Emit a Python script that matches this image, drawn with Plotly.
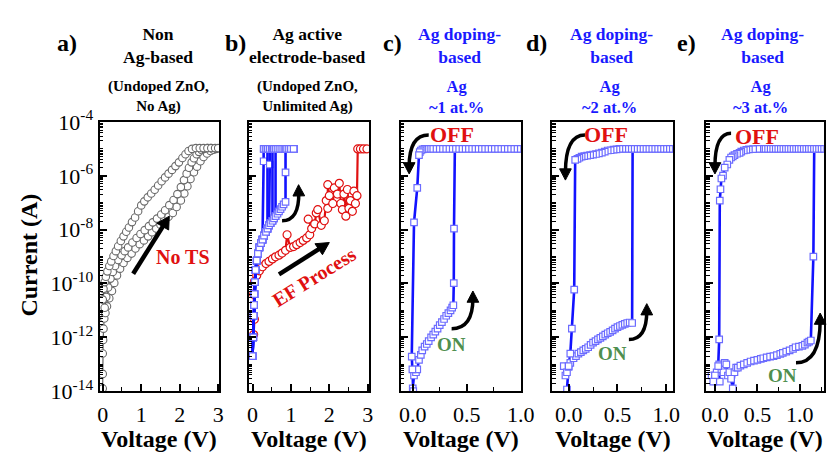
import math
import numpy as np
import plotly.graph_objects as go

W, H = 840, 466
SERIF = "Liberation Serif, Times New Roman, serif"
BLUE_LINE = "#1212ff"
BLUE_MK = "#6b6bff"
RED = "#e01010"
GREEN = "#4f8f4f"
TITLE_BLUE = "#1a1aff"

# ---------------- data : (voltage V, log10 current A) ----------------
# panel a : undoped ZnO, no Ag (three sweeps)
a_upper = [(0.00,-10.6),(0.02,-10.2),(0.05,-9.95),(0.08,-9.75),(0.12,-9.55),(0.17,-9.35),(0.22,-9.18),
           (0.28,-8.98),(0.34,-8.80),(0.40,-8.62),(0.47,-8.42),(0.54,-8.25),(0.61,-8.08),(0.68,-7.92),
           (0.76,-7.72),(0.84,-7.55),(0.92,-7.32),(1.00,-7.10),(1.08,-6.95),(1.17,-6.80),(1.26,-6.66),
           (1.35,-6.52),(1.44,-6.36),(1.53,-6.20),(1.62,-6.06),(1.71,-5.92),(1.80,-5.78),(1.89,-5.64),
           (1.98,-5.50),(2.07,-5.34),(2.15,-5.20),(2.23,-5.08),(2.32,-5.00),(2.42,-4.97),(2.52,-4.97),
           (2.62,-4.97),(2.72,-4.97),(2.82,-4.97),(2.92,-4.97),(3.00,-4.97)]
a_middle = [(0.05,-10.90),(0.09,-10.50),(0.14,-10.15),(0.20,-9.82),(0.26,-9.57),(0.32,-9.35),(0.40,-9.13),
            (0.49,-8.95),(0.57,-8.80),(0.66,-8.66),(0.77,-8.48),(0.88,-8.31),(0.98,-8.16),(1.09,-8.02),
            (1.20,-7.87),(1.30,-7.73),(1.41,-7.59),(1.52,-7.44),(1.62,-7.28),(1.73,-7.09),(1.84,-6.90),
            (1.94,-6.68),(2.03,-6.42),(2.11,-6.16),(2.18,-5.92),(2.24,-5.70),(2.31,-5.50),(2.37,-5.35),
            (2.44,-5.20),(2.50,-5.11),(2.57,-5.04),(2.63,-5.00),(2.72,-4.97),(2.80,-4.97)]
a_lower = [(0.00,-13.90),(0.00,-13.36),(0.00,-12.60),(0.01,-12.10),(0.02,-11.68),(0.04,-11.30),(0.07,-11.10),
           (0.11,-10.85),(0.17,-10.55),(0.24,-10.28),(0.30,-9.98),(0.37,-9.70),(0.45,-9.45),(0.54,-9.24),
           (0.64,-9.05),(0.75,-8.89),(0.85,-8.70),(0.96,-8.54),(1.07,-8.40),(1.18,-8.25),(1.28,-8.10),
           (1.39,-7.96),(1.50,-7.82),(1.60,-7.67),(1.71,-7.52),(1.82,-7.38),(1.92,-7.16),(2.03,-6.92),
           (2.12,-6.66),(2.20,-6.39),(2.28,-6.12),(2.37,-5.87),(2.45,-5.66),(2.54,-5.46),(2.62,-5.30),
           (2.71,-5.17),(2.80,-5.08),(2.88,-5.03),(2.95,-5.00)]

# panel b : Ag active electrode
b_blue_base = [(0.00,-12.70),(0.02,-12.00),(0.03,-11.20),(0.04,-10.80),(0.05,-10.40),(0.06,-9.95),(0.08,-9.50),
               (0.11,-9.15),(0.14,-8.89),(0.18,-8.66),(0.22,-8.50),(0.26,-8.37),(0.30,-8.22),(0.35,-8.08),
               (0.39,-7.96),(0.43,-7.84),(0.47,-7.76),(0.52,-7.67),(0.56,-7.58),(0.60,-7.50),(0.65,-7.41),
               (0.69,-7.32),(0.73,-7.24),(0.77,-7.15),(0.81,-7.06),(0.86,-6.97)]
b_blue_jump_v = [0.29, 0.39, 0.45, 0.52, 0.60, 0.86]
b_blue_jump_mid = [-5.46, None, -5.58, None, None, -5.87]
b_blue_comp = [(0.30,-5.0),(0.35,-5.0),(0.40,-5.0),(0.45,-5.0),(0.50,-5.0),(0.55,-5.0),(0.60,-5.0),(0.65,-5.0),
               (0.70,-5.0),(0.75,-5.0),(0.80,-5.0),(0.85,-5.0),(0.90,-5.0),(0.95,-5.0),(1.00,-5.0),(1.07,-5.0)]
b_red = [(0.03,-11.90),(0.05,-11.33),(0.03,-10.40),(0.05,-9.93),(0.11,-9.70),(0.18,-9.53),(0.26,-9.38),
         (0.35,-9.26),(0.43,-9.18),(0.52,-9.09),(0.60,-9.01),(0.69,-8.95),(0.77,-8.87),(0.86,-8.77),
         (0.90,-8.19),(0.98,-8.66),(1.07,-8.63),(1.15,-8.56),(1.24,-8.48),(1.32,-8.40),(1.41,-8.31),
         (1.49,-8.19),(1.54,-7.96),(1.45,-7.61),(1.62,-7.79),(1.66,-7.38),(1.70,-7.26),(1.79,-7.84),
         (1.87,-7.67),(1.92,-6.92),(1.96,-7.21),(1.96,-6.33),(2.00,-6.74),(2.09,-7.03),(2.13,-6.45),
         (2.21,-6.68),(2.26,-6.28),(2.30,-7.03),(2.34,-7.26),(2.38,-6.68),(2.43,-7.50),(2.47,-6.51),
         (2.51,-7.21),(2.55,-6.92),(2.60,-7.32),(2.64,-6.57),(2.68,-7.03),(2.72,-6.74),(2.74,-5.00),
         (2.81,-5.00),(2.89,-5.00),(2.98,-5.00)]

# panel c : Ag ~1 at.%
c_on = [(0.000,-13.90),(0.012,-13.42),(0.030,-13.30),(0.042,-13.19),(0.058,-12.84),(0.075,-12.65),(0.088,-12.49),
        (0.110,-12.35),(0.130,-12.25),(0.148,-12.14),(0.170,-12.00),(0.190,-11.90),(0.209,-11.79),(0.230,-11.68),
        (0.250,-11.55),(0.270,-11.44),(0.290,-11.32),(0.310,-11.20),(0.330,-11.10),(0.350,-11.00),(0.365,-10.90),
        (0.376,-10.81),(0.380,-9.99),(0.382,-7.96),(0.390,-5.00),(0.45,-5.0),(0.55,-5.0),(0.65,-5.0),
        (0.75,-5.0),(0.85,-5.0),(0.95,-5.0),(1.00,-5.0)]
c_off = [(1.00,-5.0),(0.97,-5.0),(0.94,-5.0),(0.91,-5.0),(0.88,-5.0),(0.85,-5.0),(0.82,-5.0),(0.79,-5.0),
         (0.76,-5.0),(0.73,-5.0),(0.70,-5.0),(0.67,-5.0),(0.64,-5.0),(0.61,-5.0),(0.58,-5.0),(0.55,-5.0),
         (0.52,-5.0),(0.49,-5.0),(0.46,-5.0),(0.43,-5.0),(0.40,-5.0),(0.37,-5.0),(0.34,-5.0),(0.31,-5.0),
         (0.28,-5.0),(0.25,-5.0),(0.22,-5.0),(0.19,-5.0),(0.16,-5.0),(0.13,-5.0),(0.11,-5.0),(0.09,-5.02),
         (0.075,-5.06),(0.065,-5.12),(0.058,-5.23),(0.042,-6.45),(0.012,-7.73),(-0.009,-12.72),
         (-0.003,-13.19),(0.005,-14.0)]

# panel d : Ag ~2 at.%
d_on = [(-0.050,-13.07),(-0.033,-13.42),(-0.017,-13.30),(0.000,-13.10),(0.017,-12.95),(0.050,-12.78),
        (0.075,-12.70),(0.100,-12.61),(0.125,-12.55),(0.150,-12.49),(0.175,-12.43),(0.200,-12.37),
        (0.225,-12.28),(0.250,-12.20),(0.275,-12.14),(0.300,-12.08),(0.325,-12.02),(0.350,-11.97),
        (0.375,-11.90),(0.400,-11.85),(0.425,-11.80),(0.450,-11.74),(0.475,-11.68),(0.500,-11.62),
        (0.525,-11.58),(0.550,-11.54),(0.575,-11.50),(0.600,-11.47),(0.625,-11.45),(0.650,-11.47),
        (0.655,-5.00),(0.75,-5.0),(0.85,-5.0),(0.95,-5.0),(1.06,-5.0)]
d_off = [(1.06,-5.0),(1.03,-5.0),(1.00,-5.0),(0.97,-5.0),(0.94,-5.0),(0.91,-5.0),(0.88,-5.0),(0.85,-5.0),
         (0.82,-5.0),(0.79,-5.0),(0.76,-5.0),(0.73,-5.0),(0.70,-5.0),(0.67,-5.0),(0.64,-5.0),(0.61,-5.0),
         (0.58,-5.0),(0.55,-5.0),(0.52,-5.0),(0.49,-5.02),(0.46,-5.03),(0.43,-5.05),(0.40,-5.06),
         (0.37,-5.10),(0.34,-5.14),(0.31,-5.17),(0.28,-5.19),(0.25,-5.21),(0.22,-5.23),(0.19,-5.25),
         (0.16,-5.27),(0.133,-5.29),(0.11,-5.33),(0.09,-5.37),(0.067,-5.41),(0.057,-10.23),
         (0.033,-11.68),(0.017,-12.61),(0.000,-13.07),(-0.017,-13.94)]

# panel e : Ag ~3 at.%
e_on = [(-0.040,-13.42),(0.000,-13.42),(0.020,-13.30),(0.050,-13.01),(0.076,-13.19),(0.100,-13.30),
        (0.115,-12.95),(0.134,-13.01),(0.153,-13.42),(0.170,-13.30),(0.190,-13.54),(0.210,-13.90),
        (0.230,-13.30),(0.250,-13.13),(0.270,-13.13),(0.300,-13.05),(0.340,-13.01),(0.380,-12.95),
        (0.420,-12.90),(0.460,-12.87),(0.500,-12.84),(0.540,-12.80),(0.570,-12.78),(0.610,-12.75),
        (0.650,-12.72),(0.690,-12.70),(0.730,-12.66),(0.770,-12.62),(0.800,-12.58),(0.840,-12.53),
        (0.880,-12.49),(0.920,-12.43),(0.950,-12.37),(0.990,-12.35),(1.030,-12.32),(1.060,-12.27),
        (1.090,-12.20),(1.110,-12.16),(1.130,-12.12),(1.160,-9.00),(1.170,-5.00),(1.20,-5.0),
        (1.24,-5.0),(1.28,-5.0)]
e_off = [(1.27,-5.0),(1.24,-5.0),(1.21,-5.0),(1.18,-5.0),(1.15,-5.0),(1.12,-5.0),(1.09,-5.0),(1.06,-5.0),
         (1.03,-5.0),(1.00,-5.0),(0.97,-5.0),(0.94,-5.0),(0.91,-5.0),(0.88,-5.0),(0.85,-5.0),(0.82,-5.0),
         (0.79,-5.0),(0.76,-5.0),(0.73,-5.0),(0.70,-5.0),(0.67,-5.0),(0.64,-5.0),(0.61,-5.0),(0.58,-5.0),
         (0.55,-5.0),(0.52,-5.0),(0.50,-5.0),(0.45,-5.01),(0.40,-5.02),(0.37,-5.04),(0.34,-5.06),
         (0.31,-5.10),(0.29,-5.15),(0.26,-5.18),(0.23,-5.23),(0.21,-5.28),(0.19,-5.32),(0.17,-5.41),
         (0.145,-5.58),(0.115,-5.70),(0.095,-5.99),(0.076,-6.10),(0.065,-6.50),(0.057,-6.92),
         (0.050,-12.08),(0.038,-13.07),(0.057,-13.65),(0.000,-13.42),(-0.020,-13.65)]

# axis ticks / labels
y_decades = [-14, -13, -12, -11, -10, -9, -8, -7, -6, -5, -4]
y_labelled = [-14, -12, -10, -8, -6, -4]
x_ticks_wide = [0, 1, 2, 3]
x_minor_wide = [0.5, 1.5, 2.5]
x_ticks_narrow = [0.0, 0.5, 1.0]
x_minor_narrow = [0.25, 0.75, 1.25]

panel_letters = ["a)", "b)", "c)", "d)", "e)"]
panel_titles = ["Non<br>Ag-based", "Ag active<br>electrode-based", "Ag doping-<br>based",
                "Ag doping-<br>based", "Ag doping-<br>based"]
panel_subtitles = ["(Undoped ZnO,<br>No Ag)", "(Undoped ZnO,<br>Unlimited Ag)", "Ag<br>~1 at.%",
                   "Ag<br>~2 at.%", "Ag<br>~3 at.%"]

# ---------------- geometry (pixels of the 840x466 canvas) ----------------
PANEL_X_PX = [(96.7, 219.3), (249.3, 372.3), (405.0, 527.7), (560.0, 683.3), (717.7, 837.5)]
PANEL_Y_PX = (113.0, 400.0)
X_RANGES = [(-0.084, 3.03), (-0.10, 3.03), (-0.11, 1.0), (-0.167, 1.067), (-0.10, 1.28)]
Y_RANGE = (-14, -4)
LETTER_POS = [(63, 29), (236, 29), (396, 29), (544, 29), (697, 29)]
TITLE_X = [157, 309, 465, 621, 775]
SUB_X = [157, 309, 462, 618, 773]


def to_px(i, v, lg):
    x0, x1 = PANEL_X_PX[i]
    r0, r1 = X_RANGES[i]
    px = x0 + (v - r0) / (r1 - r0) * (x1 - x0)
    ytop, ybot = PANEL_Y_PX
    py = ybot - (lg - Y_RANGE[0]) / (Y_RANGE[1] - Y_RANGE[0]) * (ybot - ytop)
    return px, py


def pp(p):
    """pixel -> paper coordinate string"""
    return "%f,%f" % (p[0] / W, 1 - p[1] / H)


def unzip(pairs):
    v = [p[0] for p in pairs]
    i = [10.0 ** p[1] for p in pairs]
    return v, i


fig = go.Figure()


def add_series(i, pairs, kind):
    v, cur = unzip(pairs)
    ax = "" if i == 0 else str(i + 1)
    if kind == "a":
        line = dict(color="#444444", width=1)
        marker = dict(symbol="circle", size=7.5, color="white", line=dict(color="#6a6a6a", width=1.1))
    elif kind == "red":
        line = dict(color=RED, width=2.2)
        marker = dict(symbol="circle", size=8, color="white", line=dict(color=RED, width=1.2))
    else:
        line = dict(color=BLUE_LINE, width=2.6)
        marker = dict(symbol="square", size=6.5, color="white", line=dict(color=BLUE_MK, width=1.2))
    fig.add_trace(go.Scatter(x=v, y=cur, mode="lines+markers", line=line, marker=marker,
                             xaxis="x" + ax, yaxis="y" + ax, showlegend=False, hoverinfo="skip"))


# panel a
for br in (a_lower, a_middle, a_upper):
    add_series(0, br, "a")
# panel b
add_series(1, b_red, "red")
for vj, mid in zip(b_blue_jump_v, b_blue_jump_mid):
    pts = [p for p in b_blue_base if p[0] <= vj]
    if mid is not None:
        pts.append((vj, mid))
    pts.append((vj, -5.0))
    pts += [c for c in b_blue_comp if c[0] > vj]
    add_series(1, pts, "blue")
# panels c, d, e
for i, (on, off) in enumerate([(c_on, c_off), (d_on, d_off), (e_on, e_off)], start=2):
    add_series(i, on + off, "blue")

# ---------------- axes ----------------
layout = dict(width=W, height=H, margin=dict(l=0, r=0, t=0, b=0),
              paper_bgcolor="white", plot_bgcolor="white", showlegend=False,
              font=dict(family=SERIF, color="black"))
major_y = [10.0 ** d for d in y_labelled]
minor_y = [m * 10.0 ** d for d in y_decades[:-1] for m in range(1, 10) if not (m == 1 and d in y_labelled)]
for i in range(5):
    sfx = "" if i == 0 else str(i + 1)
    x0, x1 = PANEL_X_PX[i]
    ytop, ybot = PANEL_Y_PX
    if i < 2:
        tv, tt, mv = x_ticks_wide, [str(t) for t in x_ticks_wide], x_minor_wide
    else:
        tv, tt, mv = x_ticks_narrow, ["%.1f" % t for t in x_ticks_narrow], x_minor_narrow
    layout["xaxis" + sfx] = dict(
        domain=[x0 / W, x1 / W], anchor="y" + sfx, range=list(X_RANGES[i]),
        showline=True, mirror=True, linecolor="black", linewidth=2,
        ticks="inside", ticklen=7, tickwidth=1.6, tickcolor="black",
        tickvals=tv, ticktext=tt, tickfont=dict(size=22, family=SERIF, color="black"),
        minor=dict(tickvals=mv, ticks="inside", ticklen=4, tickwidth=1.4, tickcolor="black"),
        showgrid=False, zeroline=False, ticklabelstandoff=2)
    layout["yaxis" + sfx] = dict(
        domain=[1 - ybot / H, 1 - ytop / H], anchor="x" + sfx, type="log", range=list(Y_RANGE),
        showline=True, mirror=True, linecolor="black", linewidth=2,
        ticks="inside", ticklen=7, tickwidth=1.6, tickcolor="black",
        tickvals=major_y, ticktext=["10<sup>%d</sup>" % d for d in y_labelled],
        showticklabels=(i == 0), tickfont=dict(size=22, family=SERIF, color="black"),
        minor=dict(tickvals=minor_y, ticks="inside", ticklen=3.5, tickwidth=1.2, tickcolor="black"),
        showgrid=False, zeroline=False)

annotations = []
shapes = []


def text_px(x, y, text, size, color="black", angle=0):
    annotations.append(dict(x=x / W, y=1 - y / H, xref="paper", yref="paper", text=text,
                            showarrow=False, xanchor="center", yanchor="middle", textangle=angle,
                            font=dict(family=SERIF, size=size, color=color)))


def text_data(i, v, lg, text, size, color, angle=0):
    px, py = to_px(i, v, lg)
    text_px(px, py, "<b>%s</b>" % text, size, color, angle)


def arrow_head(h, ux, uy, length=12, half=6.5):
    nx, ny = -uy, ux
    b = (h[0] - ux * length, h[1] - uy * length)
    p1 = (b[0] + nx * half, b[1] + ny * half)
    p2 = (b[0] - nx * half, b[1] - ny * half)
    shapes.append(dict(type="path", path="M %s L %s L %s Z" % (pp(h), pp(p1), pp(p2)),
                       xref="paper", yref="paper", fillcolor="black", line=dict(color="black", width=1)))


def straight_arrow(i, tail, head, width=4.5):
    t = to_px(i, *tail)
    h = to_px(i, *head)
    dx, dy = h[0] - t[0], h[1] - t[1]
    n = math.hypot(dx, dy)
    ux, uy = dx / n, dy / n
    e = (h[0] - ux * 9, h[1] - uy * 9)
    shapes.append(dict(type="path", path="M %s L %s" % (pp(t), pp(e)), xref="paper", yref="paper",
                       line=dict(color="black", width=width)))
    arrow_head(h, ux, uy, 13, 7)


def curved_arrow(i, tail, ctrl, head):
    t = to_px(i, *tail)
    c = to_px(i, *ctrl)
    h = to_px(i, *head)
    dx, dy = h[0] - c[0], h[1] - c[1]
    n = math.hypot(dx, dy)
    ux, uy = dx / n, dy / n
    e = (h[0] - ux * 8, h[1] - uy * 8)
    shapes.append(dict(type="path", path="M %s Q %s %s" % (pp(t), pp(c), pp(e)),
                       xref="paper", yref="paper", line=dict(color="black", width=3.5)))
    arrow_head(h, ux, uy, 12, 6)


# headers
for i in range(5):
    col = "black" if i < 2 else TITLE_BLUE
    lx, ly = LETTER_POS[i]
    text_px(lx, ly, "<b>%s</b>" % panel_letters[i], 24)
    text_px(TITLE_X[i], 31, "<b>%s</b>" % panel_titles[i], 17.5, col)
    text_px(SUB_X[i], 86, "<b>%s</b>" % panel_subtitles[i], 15 if i < 2 else 16.5, col)
    x0, x1 = PANEL_X_PX[i]
    text_px((x0 + x1) / 2, 451, "<b>Voltage (V)</b>", 24)
text_px(25, 255, "<b>Current (A)</b>", 24, angle=-90)

# panel a
straight_arrow(0, (0.79, -9.64), (1.73, -7.5))
text_data(0, 2.08, -9.0, "No TS", 20, RED)
# panel b
straight_arrow(1, (0.69, -9.66), (2.0, -8.48))
text_data(1, 1.6, -9.75, "EF Process", 20, RED, angle=-32)
curved_arrow(1, (0.77, -7.67), (1.22, -7.67), (1.20, -6.33))
# panel c
text_data(2, 0.36, -4.48, "OFF", 22, RED)
curved_arrow(2, (0.148, -4.48), (-0.033, -4.48), (-0.033, -5.93))
text_data(2, 0.36, -12.26, "ON", 19, GREEN)
curved_arrow(2, (0.36, -11.68), (0.557, -11.68), (0.557, -10.28))
# panel d
text_data(3, 0.383, -4.48, "OFF", 22, RED)
curved_arrow(3, (0.167, -4.48), (-0.033, -4.48), (-0.033, -6.16))
text_data(3, 0.45, -12.61, "ON", 19, GREEN)
curved_arrow(3, (0.617, -12.08), (0.80, -12.08), (0.80, -10.75))
# panel e
text_data(4, 0.496, -4.53, "OFF", 22, RED)
curved_arrow(4, (0.19, -4.42), (0.0, -4.42), (0.0, -5.93))
text_data(4, 0.80, -13.42, "ON", 19, GREEN)
curved_arrow(4, (0.955, -12.95), (1.24, -12.95), (1.24, -11.1))

layout["annotations"] = annotations
layout["shapes"] = shapes
fig.update_layout(**layout)
fig.write_html("out.html", config={"displayModeBar": False},
               post_script="document.body.style.margin='0';document.body.style.overflow='hidden';")
